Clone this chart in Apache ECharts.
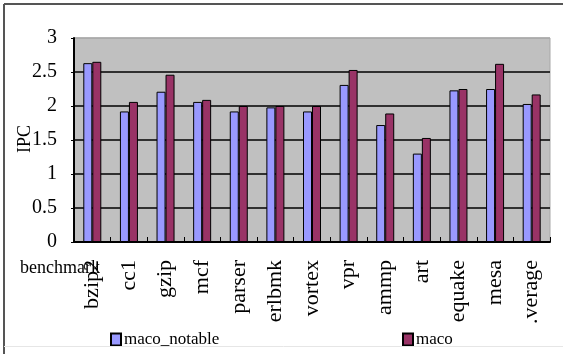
<!DOCTYPE html>
<html>
<head>
<meta charset="utf-8">
<script src="https://cdn.jsdelivr.net/npm/echarts@6/dist/echarts.min.js"></script>
<style>html,body{margin:0;padding:0;background:#fff}#c{width:563px;height:354px}</style>
</head>
<body>
<div id="c"></div>
<script>
const categories = ['bzip2','cc1','gzip','mcf','parser','erlbmk','vortex','vpr','ammp','art','equake','mesa','.verage'];
const macoNotable = [2.63,1.92,2.21,2.06,1.92,1.98,1.92,2.31,1.72,1.30,2.23,2.25,2.03];
const maco = [2.65,2.06,2.46,2.09,2.00,2.00,2.00,2.53,1.89,1.53,2.25,2.62,2.17];
const yTicks = [0,0.5,1,1.5,2,2.5,3];
const seriesNames = ['maco_notable','maco'];
const xName = 'benchmark';
const yName = 'IPC';

const serif = 'Liberation Serif';
const chart = echarts.init(document.getElementById('c'));
chart.setOption({
  animation: false,
  backgroundColor: '#fff',
  grid: {left: 74, right: 13, top: 38, bottom: 112, outerBoundsMode: 'none', containLabel: false,
         show: true, backgroundColor: '#c0c0c0', borderColor: '#a8a8a8', borderWidth: 1},
  legend: [
    {data: [seriesNames[0]], left: 105, top: 326, icon: 'rect', itemWidth: 10, itemHeight: 12, itemGap: 0,
     textStyle: {fontFamily: serif, fontSize: 17, color: '#000', padding: [0,0,0,-2]}},
    {data: [seriesNames[1]], left: 397, top: 326, icon: 'rect', itemWidth: 10, itemHeight: 12, itemGap: 0,
     textStyle: {fontFamily: serif, fontSize: 17, color: '#000', padding: [0,0,0,-2]}}
  ],
  xAxis: {
    type: 'category', data: categories,
    axisLine: {lineStyle: {color: '#000', width: 2}},
    axisTick: {show: true, inside: true, length: 5, lineStyle: {color: '#000'}},
    axisLabel: {rotate: 90, margin: 18, fontFamily: serif, fontSize: 22, color: '#000', interval: 0}
  },
  yAxis: {
    type: 'value', min: 0, max: 3, interval: 0.5,
    axisLine: {show: true, lineStyle: {color: '#000', width: 2}},
    axisTick: {show: true, length: 3, lineStyle: {color: '#000'}},
    axisLabel: {margin: 17, fontFamily: serif, fontSize: 20, color: '#000',
      formatter: v => yTicks.includes(v) ? String(v) : ''},
    splitLine: {show: true, lineStyle: {color: ['#000','#000','#000','#000','#000','#000','#a8a8a8'], width: 1.5}}
  },
  series: [
    {name: seriesNames[0], type: 'bar', data: macoNotable, barWidth: 9, barGap: '0%',
     itemStyle: {color: '#9999ff', borderColor: '#000', borderWidth: 1}},
    {name: seriesNames[1], type: 'bar', data: maco, barWidth: 9, barGap: '0%',
     itemStyle: {color: '#993366', borderColor: '#000', borderWidth: 1}}
  ],
  graphic: [
    {type: 'line', shape: {x1: 4, y1: 4, x2: 563, y2: 4}, style: {stroke: '#555', lineWidth: 2}, z: 100},
    {type: 'line', shape: {x1: 4, y1: 4, x2: 4, y2: 354}, style: {stroke: '#555', lineWidth: 2}, z: 100},
    {type: 'line', shape: {x1: 4, y1: 346.5, x2: 563, y2: 346.5}, style: {stroke: '#e6e6e6', lineWidth: 1}, z: 100},
    {type: 'text', left: 20, top: 259, style: {text: xName, font: '18px "Liberation Serif"', fill: '#000'}, z: 50},
    {type: 'text', x: 25, y: 139, rotation: Math.PI / 2,
     style: {text: yName, font: '18px "Liberation Serif"', fill: '#000', align: 'center', verticalAlign: 'middle'}, z: 50}
  ]
});
</script>
</body>
</html>
